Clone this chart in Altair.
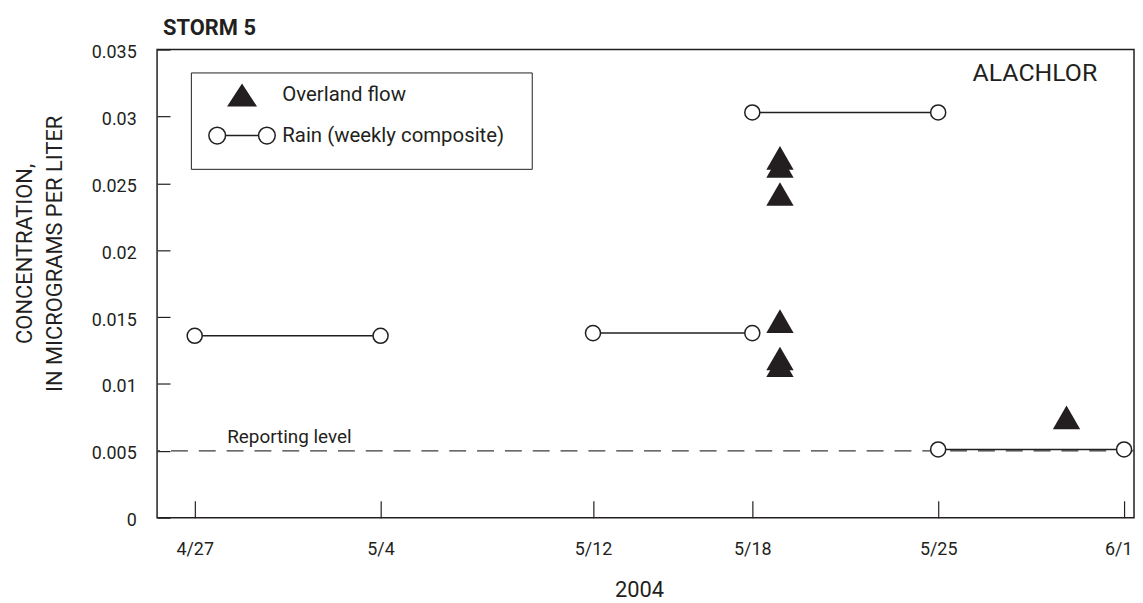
import altair as alt
import pandas as pd

# ---------------- data ----------------
RAIN_START = ["2004-04-27", "2004-05-12", "2004-05-18", "2004-05-25"]
RAIN_END = ["2004-05-04", "2004-05-18", "2004-05-25", "2004-06-01"]
RAIN_CONC = [0.0136, 0.0138, 0.0303, 0.0051]

OVERLAND_TIME = ["2004-05-19T01:00", "2004-05-19T01:00", "2004-05-19T01:00",
                 "2004-05-19T01:00", "2004-05-19T01:00", "2004-05-19T01:00",
                 "2004-05-29T20:00"]
OVERLAND_CONC = [0.0269, 0.0263, 0.0242, 0.0147, 0.0119, 0.0114, 0.0075]

X_TICKS = [(2004, 4, 27), (2004, 5, 4), (2004, 5, 12), (2004, 5, 18),
           (2004, 5, 25), (2004, 6, 1)]
Y_TICKS = [0, 0.005, 0.01, 0.015, 0.02, 0.025, 0.03, 0.035]
REPORTING_LEVEL = [0.005]
REPORTING_TEXT = ["Reporting level"]
COMPOUND = ["ALACHLOR"]
SERIES = ["Overland flow", "Rain (weekly composite)"]

INK = "#231f20"
NBSP = "\u00a0"
ZWSP = "\u200b"


def utc(s):
    return (s if "T" in s else s + "T00:00") + ":00Z"


rain_seg = pd.DataFrame({"date": [utc(s) for s in RAIN_START],
                         "end": [utc(s) for s in RAIN_END],
                         "conc": RAIN_CONC})
rain_pts = pd.DataFrame({"date": [utc(s) for s in RAIN_START + RAIN_END],
                         "conc": RAIN_CONC + RAIN_CONC})
overland = pd.DataFrame({"date": [utc(s) for s in OVERLAND_TIME],
                         "conc": OVERLAND_CONC})
ref_df = pd.DataFrame({"conc": REPORTING_LEVEL, "label": REPORTING_TEXT})
comp_df = pd.DataFrame({"label": COMPOUND})
legend_df = pd.DataFrame({"series": SERIES})

# ---------------- scales & axes ----------------
x_scale = alt.Scale(type="utc", domain=[
    alt.DateTime(year=2004, month=4, date=25, hours=14, utc=True),
    alt.DateTime(year=2004, month=6, date=1, hours=9, utc=True)])
y_scale = alt.Scale(domain=[0, 0.035], nice=False, zero=True)

x_axis = alt.Axis(
    values=[alt.DateTime(year=y, month=m, date=d, utc=True) for y, m, d in X_TICKS],
    format="%-m/%-d", offset=-17, tickSize=17, tickWidth=1.2, tickColor=INK,
    domain=False, grid=False, labelPadding=32, labelBaseline="middle",
    labelFontSize=18, labelColor=INK, labelFlush=15, labelFlushOffset=8,
    labelOverlap=False,
    titleFontSize=22, titleFontWeight="normal", titleColor=INK,
    titleX=485, titleY=89, titleBaseline="middle", titleAlign="center")

y_axis = alt.Axis(
    values=Y_TICKS, format="~g", offset=-13, tickSize=13, tickWidth=1.2,
    tickColor=INK, domain=False, grid=False, labelPadding=21, labelOffset=3,
    labelFontSize=18, labelColor=INK, titleFontSize=22,
    titleFontWeight="normal", titleColor=INK, titleAngle=270,
    titleX=-139, titleY=205, titleAlign="center",
    titleBaseline="alphabetic", titleLineHeight=30)

X = alt.X("date:T", scale=x_scale, axis=x_axis, title="2004")
Y = alt.Y("conc:Q", scale=y_scale, axis=y_axis,
          title=["CONCENTRATION,", "IN MICROGRAMS PER LITER"])

# ---------------- legend symbols (unit = 10 px at size 400) ----------------
TRI_PATH = "M0,-1.05L1.37,1.05L-1.37,1.05Z"
RAIN_PATH = ("M-1.66,0A0.84,0.84,0,1,1,-3.34,0A0.84,0.84,0,1,1,-1.66,0"
             "M-1.66,0L1.66,0"
             "M3.34,0A0.84,0.84,0,1,1,1.66,0A0.84,0.84,0,1,1,3.34,0")

LEG = alt.Legend(orient="none", legendX=34, legendY=23,
                 title=NBSP, titleOrient="bottom", titleFontSize=8,
                 titlePadding=1.5,
                 padding=12, labelOffset=29.5, symbolOffset=28.5,
                 rowPadding=14.5,
                 strokeColor=INK, fillColor="white", labelFontSize=20.5,
                 labelColor=INK, labelLimit=500,
                 labelExpr="datum.label + '" + NBSP * 3 + ZWSP + "'",
                 symbolSize=400, symbolStrokeWidth=1.5,
                 symbolStrokeColor=INK, symbolOpacity=1)

legend_layer = alt.Chart(legend_df).mark_point(
    filled=True, opacity=1, strokeWidth=1.5
).encode(
    shape=alt.Shape("series:N", scale=alt.Scale(domain=SERIES, range=[TRI_PATH, RAIN_PATH]), legend=LEG),
    fill=alt.Fill("series:N", scale=alt.Scale(domain=SERIES, range=[INK, "white"]), legend=LEG),
    stroke=alt.Stroke("series:N", scale=alt.Scale(domain=SERIES, range=[INK, INK]), legend=LEG),
).transform_filter("false")

# ---------------- layers ----------------
ref_rule = alt.Chart(ref_df).mark_rule(
    color="#3a3a3a", strokeWidth=1.2, strokeDash=[17, 11]
).encode(y=Y)

ref_text = alt.Chart(ref_df).mark_text(
    align="left", baseline="alphabetic", dy=-8, fontSize=19, color=INK
).encode(x=alt.value(70.5), y=Y, text="label:N")

rain_lines = alt.Chart(rain_seg).mark_rule(color=INK, strokeWidth=1.5).encode(
    x=X, x2="end:T", y=Y)

rain_circles = alt.Chart(rain_pts).mark_point(
    shape="circle", filled=True, fill="white", stroke=INK, strokeWidth=1.5,
    size=230, opacity=1).encode(x=X, y=Y)

tri = alt.Chart(overland).mark_point(
    shape="triangle-up", filled=True, color=INK, size=756, opacity=1
).encode(x=X, y=Y)

comp_text = alt.Chart(comp_df).mark_text(
    align="right", baseline="alphabetic", fontSize=25, color=INK
).encode(x=alt.value(946), y=alt.value(32), text="label:N")

chart = alt.layer(
    ref_rule, ref_text, rain_lines, rain_circles, tri, comp_text, legend_layer
).properties(
    width=983, height=471,
    autosize=alt.AutoSizeParams(type="none"),
    padding={"left": 150, "top": 40, "right": 1, "bottom": 83},
    title=alt.TitleParams("STORM 5", anchor="start", frame="group",
                          fontSize=22, fontWeight="bold", color=INK,
                          dx=6, dy=28, offset=15, baseline="alphabetic"),
).configure(font="Roboto").configure_view(stroke=INK, strokeWidth=1.5)

chart.save("out.html", embed_options={"renderer": "svg", "actions": False})
